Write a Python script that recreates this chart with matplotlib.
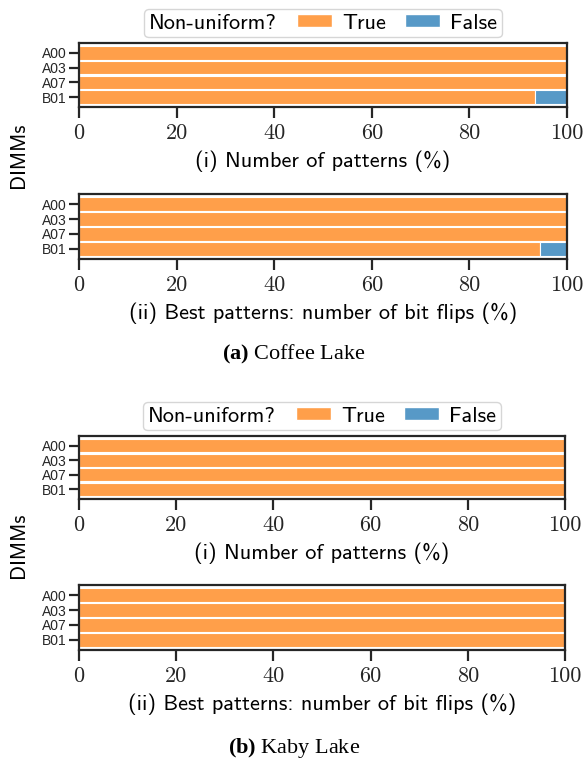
import matplotlib
matplotlib.use("Agg")
import matplotlib.pyplot as plt
from matplotlib.patches import Patch
from matplotlib.offsetbox import HPacker

# data
dimms = ["A00", "A03", "A07", "B01"]
ticks = [0, 20, 40, 60, 80, 100]

coffee_patterns_true = [100, 100, 100, 93.5]
coffee_patterns_false = [0, 0, 0, 6.5]
coffee_flips_true = [100, 100, 100, 94.5]
coffee_flips_false = [0, 0, 0, 5.5]

kaby_patterns_true = [100, 100, 100, 100]
kaby_patterns_false = [0, 0, 0, 0]
kaby_flips_true = [100, 100, 100, 100]
kaby_flips_false = [0, 0, 0, 0]

xlabels = ["(i) Number of patterns (%)",
           "(ii) Best patterns: number of bit flips (%)"]

c_true = "#ff9f4a"
c_false = "#5799c7"
dark = "#262626"

plt.rcParams["axes.edgecolor"] = dark
plt.rcParams["axes.linewidth"] = 1.6
plt.rcParams["xtick.color"] = dark
plt.rcParams["ytick.color"] = dark
plt.rcParams["mathtext.fontset"] = "custom"
plt.rcParams["mathtext.rm"] = "Liberation Serif"
plt.rcParams["mathtext.bf"] = "Liberation Serif:bold"

fig = plt.figure(figsize=(5.85, 7.61), dpi=100)

W = 585.0
H = 761.0


def px_axes(left, right, top, bottom):
    return fig.add_axes([left / W, 1 - bottom / H, (right - left) / W, (bottom - top) / H])


def draw_panel(ax, vals_true, vals_false, xlabel):
    y = list(range(len(dimms)))
    ax.barh(y, vals_true, height=0.9, color=c_true, edgecolor="white", linewidth=0.8)
    ax.barh(y, vals_false, left=vals_true, height=0.9, color=c_false,
            edgecolor="white", linewidth=0.8)
    ax.set_xlim(0, 100)
    ax.set_ylim(3.67, -0.67)
    ax.set_yticks(y)
    ax.set_yticklabels(dimms, fontfamily="Liberation Sans", fontsize=10)
    ax.set_xticks(ticks)
    ax.set_xticklabels([str(t) for t in ticks], fontfamily="cmr10", fontsize=16)
    ax.tick_params(axis="x", length=8, width=1.6, pad=4)
    ax.tick_params(axis="y", length=7, width=1.6, pad=2)
    ax.set_xlabel(xlabel, fontfamily="cmss10", fontsize=16, labelpad=5.5)


def add_legend(ax):
    handles = [Patch(facecolor=c_true, edgecolor="white"),
               Patch(facecolor=c_false, edgecolor="white")]
    leg = ax.legend(handles, ["True", "False"], title="Non-uniform?", ncol=2,
                    loc="lower center", bbox_to_anchor=(0.5, 1.0),
                    prop={"family": "cmss10", "size": 16},
                    title_fontproperties={"family": "cmss10", "size": 16},
                    frameon=True, fancybox=True, edgecolor="#cccccc",
                    handlelength=1.6, handleheight=0.55, handletextpad=0.45,
                    columnspacing=0.85, borderpad=0.2, labelspacing=0.9,
                    borderaxespad=0.27)
    # put the title on the same line as the entries
    leg._legend_box.__class__ = HPacker
    leg.get_frame().set_linewidth(1.0)


# (a) Coffee Lake
ax1 = px_axes(79, 567, 43, 107)
draw_panel(ax1, coffee_patterns_true, coffee_patterns_false, xlabels[0])
add_legend(ax1)
ax2 = px_axes(79, 567, 194, 259)
draw_panel(ax2, coffee_flips_true, coffee_flips_false, xlabels[1])
fig.text(18 / W, 1 - 155 / H, "DIMMs", rotation=90, ha="center", va="center",
         fontfamily="cmss10", fontsize=15)
fig.text(294 / W, 1 - 354 / H, r"$\mathbf{(a)}$ Coffee Lake", ha="center", va="center",
         fontfamily="Liberation Serif", fontsize=16)

# (b) Kaby Lake
ax3 = px_axes(79, 565, 436, 499)
draw_panel(ax3, kaby_patterns_true, kaby_patterns_false, xlabels[0])
add_legend(ax3)
ax4 = px_axes(79, 565, 585, 650)
draw_panel(ax4, kaby_flips_true, kaby_flips_false, xlabels[1])
fig.text(18 / W, 1 - 545 / H, "DIMMs", rotation=90, ha="center", va="center",
         fontfamily="cmss10", fontsize=15)
fig.text(294 / W, 1 - 748 / H, r"$\mathbf{(b)}$ Kaby Lake", ha="center", va="center",
         fontfamily="Liberation Serif", fontsize=16)

fig.savefig("out.png", dpi=100)
